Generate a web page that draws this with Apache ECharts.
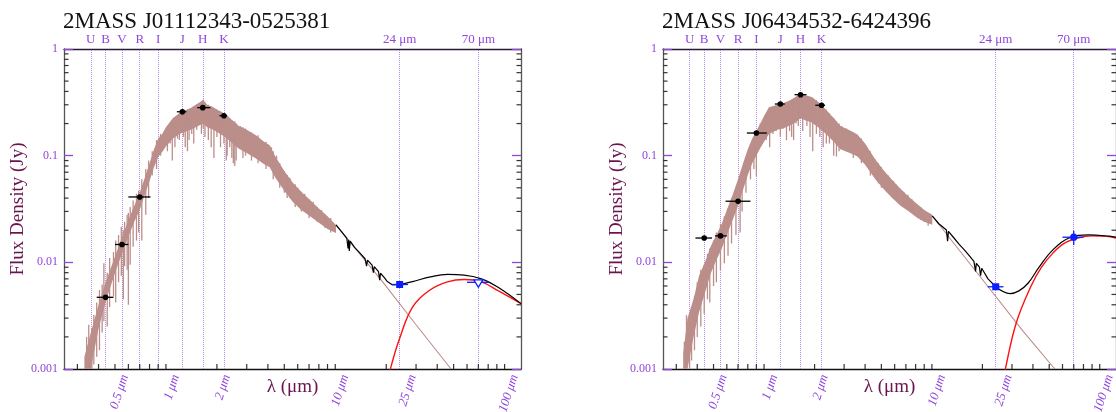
<!DOCTYPE html>
<html lang="en">
<head>
<meta charset="UTF-8">
<title>SED</title>
<style>
  html, body { margin: 0; padding: 0; background: #fff; }
  #chart { width: 1116px; height: 412px; }
</style>
</head>
<body>
<div id="chart"></div>
<script src="https://cdn.jsdelivr.net/npm/echarts@6/dist/echarts.min.js"></script>
<script>
// titles and band markers
const titles = ['2MASS J01112343-0525381', '2MASS J06434532-6424396'];
const bandNames = ['U', 'B', 'V', 'R', 'I', 'J', 'H', 'K', '24 μm', '70 μm'];
const bandLam = [0.365, 0.44, 0.55, 0.70, 0.90, 1.25, 1.65, 2.2, 24, 70];

// axis ticks / labels
const xTickVals = [0.3, 0.4, 0.5, 0.6, 0.7, 0.8, 0.9, 1, 2, 3, 4, 5, 6, 7, 8, 9, 10,
  20, 30, 40, 50, 60, 70, 80, 90, 100];
const xLabelVals = [0.5, 1, 2, 10, 25, 100];
const yMinorVals = [0.002, 0.003, 0.004, 0.005, 0.006, 0.007, 0.008, 0.009,
  0.02, 0.03, 0.04, 0.05, 0.06, 0.07, 0.08, 0.09,
  0.2, 0.3, 0.4, 0.5, 0.6, 0.7, 0.8, 0.9];

// ---------- panel 1 : J01112343-0525381 ----------
const specLamA = [0.33, 0.36, 0.40, 0.44, 0.48, 0.52, 0.56, 0.60, 0.65, 0.70, 0.75, 0.80, 0.85, 0.90, 0.95, 1.0,
  1.1, 1.2, 1.3, 1.4, 1.5, 1.6, 1.66, 1.75, 1.9, 2.05, 2.2, 2.35, 2.5, 2.7, 3.0, 3.4, 3.8, 4.1, 4.4,
  5.0, 5.6, 6.3, 7.1, 8.0, 9.0, 10.1];
const specTopA = [0.0013, 0.0022, 0.0040, 0.0065, 0.0095, 0.0135, 0.0185, 0.025, 0.034, 0.045, 0.062, 0.085, 0.115, 0.145, 0.16, 0.185,
  0.225, 0.25, 0.265, 0.28, 0.30, 0.32, 0.335, 0.30, 0.285, 0.265, 0.25, 0.23, 0.21, 0.19, 0.175, 0.155, 0.135, 0.125, 0.10,
  0.072, 0.056, 0.046, 0.0385, 0.032, 0.027, 0.0224];
const specBotA = [0.001, 0.001, 0.0024, 0.0042, 0.0065, 0.0095, 0.013, 0.0175, 0.024, 0.031, 0.043, 0.058, 0.078, 0.097, 0.108, 0.122,
  0.145, 0.16, 0.168, 0.175, 0.185, 0.195, 0.20, 0.185, 0.175, 0.163, 0.152, 0.14, 0.128, 0.116, 0.106, 0.094, 0.083, 0.078, 0.063,
  0.047, 0.037, 0.031, 0.027, 0.0235, 0.0205, 0.0188];
const spikeLamA = [0.34, 0.35, 0.365, 0.375, 0.39, 0.405, 0.42, 0.43, 0.45, 0.465, 0.49, 0.505, 0.525, 0.545, 0.56, 0.57, 0.59, 0.60,
  0.615, 0.64, 0.67, 0.69, 0.72, 0.76, 0.79, 0.83, 0.88, 0.93,
  1.02, 1.06, 1.09, 1.13, 1.17, 1.2, 1.23, 1.27, 1.3, 1.34, 1.37, 1.42, 1.46, 1.52, 1.58, 1.62, 1.66, 1.7, 1.78, 1.85, 1.92, 2.0,
  2.1, 2.2, 2.27, 2.3, 2.38, 2.45, 2.5, 2.55, 2.6, 2.75, 2.85, 2.95, 3.2, 3.5, 3.9,
  4.2, 4.3, 4.5, 4.7, 5.0, 5.2, 5.4, 5.8, 6.0, 6.3, 6.6, 7.0, 7.4, 7.8, 8.3, 8.7, 9.4];
const spikeTopA = [0.0020, 0.0026, 0.0024, 0.0032, 0.0042, 0.0055, 0.0062, 0.0098, 0.0080, 0.011, 0.0125, 0.016, 0.018, 0.0215, 0.020, 0.024, 0.028, 0.029,
  0.033, 0.038, 0.044, 0.047, 0.06, 0.075, 0.09, 0.11, 0.14, 0.16,
  0.19, 0.20, 0.215, 0.22, 0.23, 0.25, 0.255, 0.26, 0.265, 0.27, 0.275, 0.28, 0.29, 0.30, 0.31, 0.32, 0.335, 0.31, 0.30, 0.29, 0.28, 0.27,
  0.26, 0.25, 0.24, 0.235, 0.225, 0.215, 0.21, 0.21, 0.20, 0.19, 0.185, 0.18, 0.165, 0.155, 0.135,
  0.12, 0.11, 0.10, 0.085, 0.072, 0.066, 0.062, 0.054, 0.05, 0.046, 0.044, 0.039, 0.037, 0.033, 0.031, 0.028, 0.026];
const spikeBotA = [0.001, 0.001, 0.001, 0.0011, 0.0013, 0.0015, 0.0022, 0.0028, 0.0025, 0.0038, 0.0048, 0.0042, 0.0065, 0.0075, 0.0045, 0.0092, 0.0085, 0.0040,
  0.0095, 0.014, 0.016, 0.019, 0.016, 0.028, 0.04, 0.065, 0.075, 0.10,
  0.11, 0.13, 0.09, 0.12, 0.145, 0.14, 0.17, 0.15, 0.12, 0.11, 0.14, 0.16, 0.13, 0.175, 0.20, 0.16, 0.18, 0.15, 0.14, 0.12, 0.095, 0.15,
  0.12, 0.13, 0.09, 0.10, 0.12, 0.095, 0.085, 0.08, 0.09, 0.12, 0.095, 0.10, 0.09, 0.085, 0.075,
  0.075, 0.06, 0.07, 0.05, 0.045, 0.04, 0.04, 0.033, 0.036, 0.03, 0.031, 0.026, 0.028, 0.024, 0.023, 0.021, 0.019];
const photoLamA = [10.1, 19, 30, 48.3];              // photosphere tail (thin brown)
const photoFluxA = [0.0224, 0.0066, 0.0026, 0.001];
const irSpecLamA = [10.1, 11.0, 11.7, 11.9, 12.0, 12.1, 12.25, 13.0, 14.0, 15.0, 15.3, 15.5, 16.5, 16.8, 17.0, 18.0, 18.3, 18.5, 19.5, 20.3, 21.8];
const irSpecFluxA = [0.0224, 0.019, 0.0168, 0.0135, 0.0163, 0.0128, 0.0158, 0.0138, 0.0122, 0.0108, 0.0092, 0.0105, 0.0094, 0.0080, 0.0091, 0.0082, 0.0068, 0.0079, 0.0072, 0.0066, 0.00614];
const totalLamA = [21.8, 24, 28.6, 36.5, 46, 57.6, 73, 92, 125];
const totalFluxA = [0.00614, 0.0062, 0.0066, 0.0073, 0.0077, 0.0076, 0.0070, 0.0058, 0.0041];
const dustLamA = [20.5, 21.5, 23.9, 28.6, 36.3, 46, 57.6, 73, 92, 125];
const dustFluxA = [0.0008, 0.0011, 0.0019, 0.0038, 0.0055, 0.00655, 0.0069, 0.00655, 0.0054, 0.0041];
const optLamA = [0.44, 0.55, 0.70, 1.25, 1.65, 2.2];
const optFluxA = [0.0047, 0.0147, 0.041, 0.258, 0.282, 0.237];
const optLoA = [0.39, 0.50, 0.60, 1.16, 1.53, 2.07];
const optHiA = [0.49, 0.60, 0.81, 1.32, 1.83, 2.30];
const mips24A = [24, 0.0062, 21.7, 26.9];
const mips70A = [70, 0.0065, 60, 81];            // upper limit

// ---------- panel 2 : J06434532-6424396 ----------
const specLamB = [0.33, 0.35, 0.38, 0.41, 0.45, 0.48, 0.52, 0.56, 0.60, 0.65, 0.70, 0.75, 0.80, 0.85, 0.90, 0.95, 1.0,
  1.07, 1.2, 1.3, 1.4, 1.5, 1.6, 1.65, 1.75, 1.92, 2.1, 2.34, 2.6, 2.85, 3.3, 3.6, 4.0, 4.6,
  5.2, 5.8, 6.5, 7.3, 8.2, 9.0, 10.05];
const specTopB = [0.0014, 0.0030, 0.0045, 0.0075, 0.0105, 0.014, 0.018, 0.023, 0.031, 0.043, 0.060, 0.085, 0.115, 0.145, 0.17, 0.20, 0.235,
  0.285, 0.30, 0.31, 0.325, 0.345, 0.37, 0.385, 0.37, 0.355, 0.32, 0.27, 0.225, 0.19, 0.17, 0.158, 0.13, 0.092,
  0.072, 0.059, 0.049, 0.041, 0.035, 0.031, 0.028];
const specBotB = [0.001, 0.001, 0.0020, 0.0034, 0.0055, 0.0078, 0.0105, 0.0135, 0.018, 0.025, 0.034, 0.048, 0.066, 0.085, 0.10, 0.118, 0.135,
  0.16, 0.175, 0.18, 0.19, 0.20, 0.215, 0.225, 0.215, 0.205, 0.185, 0.16, 0.135, 0.115, 0.105, 0.098, 0.082, 0.06,
  0.048, 0.04, 0.034, 0.030, 0.026, 0.024, 0.0225];
const spikeLamB = [0.335, 0.345, 0.36, 0.37, 0.385, 0.40, 0.42, 0.44, 0.46, 0.475, 0.50, 0.52, 0.55, 0.58, 0.61, 0.64, 0.68, 0.72,
  0.74, 0.78, 0.83, 0.87, 0.90, 0.95,
  1.03, 1.08, 1.13, 1.18, 1.25, 1.3, 1.36, 1.42, 1.46, 1.5, 1.55, 1.6, 1.65, 1.7, 1.8, 1.88, 1.95, 2.05, 2.15, 2.25,
  2.35, 2.45, 2.6, 2.7, 2.8, 2.9, 3.1, 3.4, 3.8,
  4.3, 4.6, 4.8, 5.0, 5.5, 5.9, 6.1, 6.8, 7.2, 7.6, 8.6, 9.0, 9.5];
const spikeTopB = [0.0018, 0.0032, 0.0028, 0.0038, 0.0048, 0.0065, 0.0085, 0.0095, 0.012, 0.0135, 0.016, 0.019, 0.023, 0.027, 0.032, 0.040, 0.050, 0.065,
  0.075, 0.095, 0.125, 0.15, 0.17, 0.20,
  0.24, 0.27, 0.28, 0.29, 0.30, 0.31, 0.32, 0.325, 0.33, 0.345, 0.35, 0.37, 0.385, 0.375, 0.36, 0.355, 0.35, 0.33, 0.31, 0.29,
  0.27, 0.25, 0.225, 0.21, 0.20, 0.19, 0.18, 0.165, 0.145,
  0.11, 0.092, 0.085, 0.078, 0.065, 0.058, 0.054, 0.046, 0.043, 0.039, 0.033, 0.031, 0.029];
const spikeBotB = [0.001, 0.001, 0.001, 0.0012, 0.0015, 0.002, 0.0025, 0.0033, 0.0045, 0.0042, 0.006, 0.0065, 0.0085, 0.0098, 0.0115, 0.015, 0.018, 0.019,
  0.03, 0.045, 0.06, 0.075, 0.064, 0.13,
  0.14, 0.12, 0.16, 0.17, 0.15, 0.18, 0.14, 0.17, 0.15, 0.14, 0.20, 0.19, 0.22, 0.17, 0.19, 0.15, 0.11, 0.16, 0.15, 0.12,
  0.13, 0.13, 0.10, 0.098, 0.11, 0.12, 0.11, 0.095, 0.085,
  0.065, 0.062, 0.055, 0.05, 0.045, 0.04, 0.04, 0.034, 0.032, 0.03, 0.025, 0.024, 0.022];
const photoLamB = [10.05, 20, 35, 54];
const photoFluxB = [0.0272, 0.0069, 0.00225, 0.001];
const irSpecLamB = [10.05, 11.0, 12.2, 12.4, 12.55, 13.5, 14.5, 15.6, 16.5, 17.8, 18.2, 18.4, 19.2, 19.5, 19.8, 21.6, 24];
const irSpecFluxB = [0.0272, 0.023, 0.0201, 0.0158, 0.0195, 0.017, 0.0148, 0.0131, 0.0118, 0.0102, 0.0082, 0.0098, 0.0090, 0.0075, 0.0088, 0.0070, 0.0059];
const totalLamB = [24, 29.2, 33, 37.5, 43.3, 52.6, 67.3, 85.7, 114, 125];
const totalFluxB = [0.0059, 0.0051, 0.0054, 0.0064, 0.0089, 0.0131, 0.0172, 0.0181, 0.0176, 0.0172];
const dustLamB = [26.8, 27.4, 31.8, 38.8, 45, 52.6, 62, 75, 90, 110, 125];
const dustFluxB = [0.0008, 0.001, 0.0027, 0.0059, 0.009, 0.0122, 0.0152, 0.0170, 0.0177, 0.0175, 0.0169];
const optLamB = [0.44, 0.55, 0.70, 0.90, 1.25, 1.65, 2.2];
const optFluxB = [0.0169, 0.0177, 0.0374, 0.163, 0.305, 0.373, 0.297];
const optLoB = [0.39, 0.51, 0.59, 0.79, 1.16, 1.52, 2.02];
const optHiB = [0.49, 0.60, 0.83, 1.04, 1.33, 1.79, 2.31];
const mips24B = [24, 0.0059, 21.5, 26.7];
const mips70B = [70, 0.0172, 60, 80, 0.0145, 0.0198];   // detection with flux error

const PURPLE = '#9146dc';
const GRIDLINE = '#b08ae8';
const MAROON = '#6a1450';
const BROWN = '#bb8e8a';
const SERIF = '"Liberation Serif", "DejaVu Serif", serif';

const chart = echarts.init(document.getElementById('chart'));

function zip(a, b) { return a.map((v, i) => [v, b[i]]); }

function bandRender(lam, top, bot) {
  return function (params, api) {
    const pts = [];
    for (let i = 0; i < lam.length; i++) pts.push(api.coord([lam[i], top[i]]));
    for (let i = lam.length - 1; i >= 0; i--) pts.push(api.coord([lam[i], bot[i]]));
    return { type: 'polygon', shape: { points: pts }, style: { fill: BROWN } };
  };
}

function spikeRender(params, api) {
  const a = api.coord([api.value(0), api.value(1)]);
  const b = api.coord([api.value(0), api.value(2)]);
  return { type: 'line', shape: { x1: a[0], y1: a[1], x2: b[0], y2: b[1] }, style: { stroke: BROWN, lineWidth: 1.3 } };
}

function photRender(kind) {
  return function (params, api) {
    const y = api.value(1);
    const c = api.coord([api.value(0), y]);
    const a = api.coord([api.value(2), y]);
    const b = api.coord([api.value(3), y]);
    const col = kind === 'opt' ? '#000' : '#0a1eff';
    const kids = [{ type: 'line', shape: { x1: a[0], y1: a[1], x2: b[0], y2: b[1] }, style: { stroke: col, lineWidth: 1.3 } }];
    if (kind === 'opt') {
      kids.push({ type: 'circle', shape: { cx: c[0], cy: c[1], r: 2.8 }, style: { fill: '#000' } });
    } else if (kind === 'sq') {
      kids.push({ type: 'rect', shape: { x: c[0] - 3.5, y: c[1] - 3.5, width: 7, height: 7 }, style: { fill: col } });
    } else if (kind === 'lim') {
      kids.push({ type: 'polygon', shape: { points: [[c[0] - 4.5, c[1] - 2.5], [c[0] + 4.5, c[1] - 2.5], [c[0], c[1] + 5]] },
        style: { fill: '#fff', stroke: col, lineWidth: 1.3 } });
    } else {
      const lo = api.coord([api.value(0), api.value(4)]);
      const hi = api.coord([api.value(0), api.value(5)]);
      kids.push({ type: 'line', shape: { x1: lo[0], y1: lo[1], x2: hi[0], y2: hi[1] }, style: { stroke: col, lineWidth: 1.3 } });
      kids.push({ type: 'circle', shape: { cx: c[0], cy: c[1], r: 3.6 }, style: { fill: col } });
    }
    return { type: 'group', children: kids };
  };
}

function xTickRender(params, api) {
  const p = api.coord([api.value(0), 0.001]);
  return { type: 'line', shape: { x1: p[0], y1: p[1], x2: p[0], y2: p[1] - 5 }, style: { stroke: '#333', lineWidth: 1.2 } };
}
function yTickRender(params, api) {
  const l = api.coord([0.25, api.value(1)]);
  const r = api.coord([125, api.value(1)]);
  return { type: 'group', children: [
    { type: 'line', shape: { x1: l[0], y1: l[1], x2: l[0] + 4.5, y2: l[1] }, style: { stroke: '#333', lineWidth: 1.2 } },
    { type: 'line', shape: { x1: r[0], y1: r[1], x2: r[0] - 4.5, y2: r[1] }, style: { stroke: '#333', lineWidth: 1.2 } }
  ] };
}
function xLabelRender(params, api) {
  const v = api.value(0);
  const p = api.coord([v, 0.001]);
  return { type: 'text', x: p[0] + 10, y: p[1] + 6, rotation: 72 * Math.PI / 180,
    style: { text: v + ' μm', fill: PURPLE, font: 'italic 13px ' + SERIF, align: 'right', verticalAlign: 'middle' } };
}

function panelSeries(g, d) {
  const xi = 2 * g, yi = 2 * g;
  const base = { xAxisIndex: xi, yAxisIndex: yi };
  return [
    Object.assign({ type: 'custom', z: 3, renderItem: bandRender(d.specLam, d.specTop, d.specBot),
      encode: { x: 0, y: 1 }, data: [[d.specLam[0], d.specTop[0]]] }, base),
    Object.assign({ type: 'custom', z: 3, renderItem: spikeRender, encode: { x: 0, y: 1 },
      data: d.spikeLam.map((l, i) => [l, d.spikeTop[i], d.spikeBot[i]]) }, base),
    Object.assign({ type: 'line', z: 4, symbol: 'none', data: zip(d.photoLam, d.photoFlux),
      lineStyle: { color: BROWN, width: 1.1 },
      markLine: {
        z: 1, silent: true, symbol: ['none', 'none'], animation: false,
        lineStyle: { type: 'dotted', color: GRIDLINE, width: 1 },
        label: { show: true, position: 'end', distance: 3, formatter: p => p.name,
          color: PURPLE, fontFamily: SERIF, fontSize: 13 },
        data: bandLam.map((l, i) => ({ name: bandNames[i], xAxis: l }))
      } }, base),
    Object.assign({ type: 'line', z: 5, symbol: 'none', data: zip(d.irSpecLam, d.irSpecFlux),
      lineStyle: { color: '#000', width: 1.2 } }, base),
    Object.assign({ type: 'line', z: 5, symbol: 'none', smooth: 0.4, data: zip(d.dustLam, d.dustFlux),
      lineStyle: { color: '#ff1010', width: 1.4 } }, base),
    Object.assign({ type: 'line', z: 6, symbol: 'none', smooth: 0.4, data: zip(d.totalLam, d.totalFlux),
      lineStyle: { color: '#000', width: 1.2 } }, base),
    Object.assign({ type: 'custom', z: 8, renderItem: photRender('opt'), encode: { x: 0, y: 1 },
      data: d.optLam.map((l, i) => [l, d.optFlux[i], d.optLo[i], d.optHi[i]]) }, base),
    Object.assign({ type: 'custom', z: 8, renderItem: photRender('sq'), encode: { x: 0, y: 1 }, data: [d.m24] }, base),
    Object.assign({ type: 'custom', z: 8, renderItem: photRender(d.m70.length > 4 ? 'det' : 'lim'), encode: { x: 0, y: 1 }, data: [d.m70] }, base),
    Object.assign({ type: 'custom', z: 9, renderItem: xTickRender, encode: { x: 0, y: 1 },
      data: xTickVals.map(v => [v, 0.001]) }, base),
    Object.assign({ type: 'custom', z: 9, renderItem: yTickRender, encode: { x: 0, y: 1 },
      data: yMinorVals.map(v => [0.25, v]) }, base),
    Object.assign({ type: 'custom', z: 9, renderItem: xLabelRender, encode: { x: 0, y: 1 },
      data: xLabelVals.map(v => [v, 0.001]) }, base)
  ];
}

const panels = [
  { specLam: specLamA, specTop: specTopA, specBot: specBotA, spikeLam: spikeLamA, spikeTop: spikeTopA, spikeBot: spikeBotA,
    photoLam: photoLamA, photoFlux: photoFluxA, irSpecLam: irSpecLamA, irSpecFlux: irSpecFluxA,
    totalLam: totalLamA, totalFlux: totalFluxA, dustLam: dustLamA, dustFlux: dustFluxA,
    optLam: optLamA, optFlux: optFluxA, optLo: optLoA, optHi: optHiA, m24: mips24A, m70: mips70A },
  { specLam: specLamB, specTop: specTopB, specBot: specBotB, spikeLam: spikeLamB, spikeTop: spikeTopB, spikeBot: spikeBotB,
    photoLam: photoLamB, photoFlux: photoFluxB, irSpecLam: irSpecLamB, irSpecFlux: irSpecFluxB,
    totalLam: totalLamB, totalFlux: totalFluxB, dustLam: dustLamB, dustFlux: dustFluxB,
    optLam: optLamB, optFlux: optFluxB, optLo: optLoB, optHi: optHiB, m24: mips24B, m70: mips70B }
];

const lefts = [64, 663];
const xAxes = [], yAxes = [], series = [];
lefts.forEach((left, g) => {
  xAxes.push({
    gridIndex: g, type: 'log', logBase: 10, min: 0.25, max: 125, position: 'bottom',
    axisLine: { lineStyle: { color: '#111', width: 1.3 } }, axisTick: { show: false }, axisLabel: { show: false },
    splitLine: { show: false },
    name: 'λ (μm)', nameLocation: 'middle', nameGap: 9,
    nameTextStyle: { color: MAROON, fontFamily: SERIF, fontSize: 19, verticalAlign: 'top' }
  });
  xAxes.push({
    gridIndex: g, type: 'log', logBase: 10, min: 0.25, max: 125, position: 'top',
    axisLine: { lineStyle: { color: '#2a1838', width: 1.3 } }, axisTick: { show: false }, axisLabel: { show: false },
    splitLine: { show: false }
  });
  yAxes.push({
    gridIndex: g, type: 'log', logBase: 10, min: 0.001, max: 1, position: 'left',
    axisLine: { lineStyle: { color: '#555', width: 1.3 } },
    axisTick: { inside: true, length: 9, lineStyle: { color: PURPLE, width: 1.3 } },
    axisLabel: { color: PURPLE, fontFamily: SERIF, fontSize: 12, margin: 6, formatter: v => String(v) },
    splitLine: { show: false },
    name: 'Flux Density (Jy)', nameLocation: 'middle', nameGap: 34,
    nameTextStyle: { color: MAROON, fontFamily: SERIF, fontSize: 19 }
  });
  yAxes.push({
    gridIndex: g, type: 'log', logBase: 10, min: 0.001, max: 1, position: 'right',
    axisLine: { lineStyle: { color: '#555', width: 1.3 } },
    axisTick: { inside: true, length: 9, lineStyle: { color: PURPLE, width: 1.3 } },
    axisLabel: { show: false }, splitLine: { show: false }
  });
  series.push(...panelSeries(g, panels[g]));
});

chart.setOption({
  animation: false,
  backgroundColor: '#fff',
  title: titles.map((t, g) => ({
    text: t, left: lefts[g] - 1, top: 10, padding: 0,
    textStyle: { color: '#111', fontFamily: SERIF, fontSize: 23, fontWeight: 'normal' }
  })),
  grid: lefts.map(left => ({ left: left, top: 49, width: 457, height: 320 })),
  xAxis: xAxes,
  yAxis: yAxes,
  series: series
});
</script>
</body>
</html>
